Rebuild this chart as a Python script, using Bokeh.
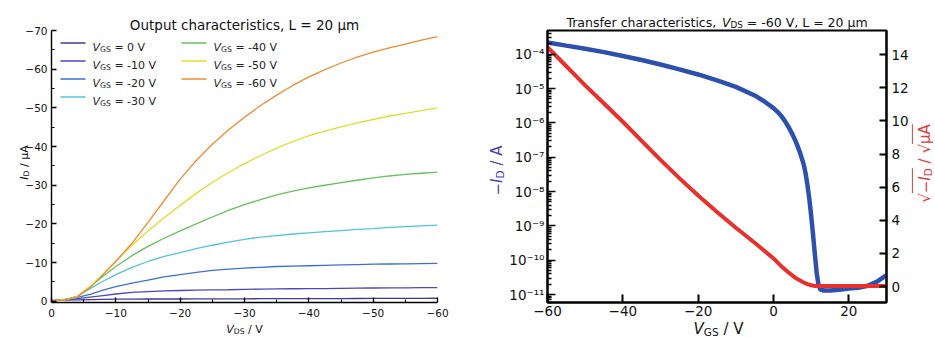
from bokeh.plotting import figure
from bokeh.models import (Range1d, LinearAxis, LinearScale, FixedTicker, CustomJSTickFormatter,
                          Label, BoxAnnotation, GridBox)
from bokeh.embed import file_html
from bokeh.resources import INLINE

FONT = "DejaVu Sans"

# ---------------- Output characteristics (left) ----------------
vds = [0, -2, -4, -6, -8, -10, -12.5, -15, -17.5, -20, -22.5, -25, -27.5, -30, -32.5, -35,
       -37.5, -40, -42.5, -45, -47.5, -50, -52.5, -55, -57.5, -60]
id_vgs_0 = [-0.2, -0.3, -0.4, -0.45, -0.5, -0.55, -0.55, -0.6, -0.6, -0.6, -0.62, -0.65, -0.65,
            -0.65, -0.68, -0.7, -0.7, -0.7, -0.7, -0.72, -0.73, -0.75, -0.75, -0.76, -0.78, -0.8]
id_vgs_m10 = [-0.2, -0.4, -0.7, -1.1, -1.5, -1.9, -2.3, -2.5, -2.7, -2.8, -2.9, -2.95, -3.0,
              -3.1, -3.15, -3.2, -3.25, -3.3, -3.3, -3.35, -3.4, -3.45, -3.5, -3.5, -3.55, -3.55]
id_vgs_m20 = [-0.2, -0.5, -1.0, -1.8, -2.9, -3.8, -4.7, -5.5, -6.3, -6.9, -7.5, -8.0, -8.3,
              -8.6, -8.8, -9.0, -9.1, -9.2, -9.3, -9.4, -9.5, -9.6, -9.65, -9.7, -9.75, -9.8]
id_vgs_m30 = [-0.2, -0.4, -1.3, -3.3, -5.2, -6.9, -8.8, -10.3, -11.6, -12.6, -13.6, -14.5,
              -15.3, -16.0, -16.6, -17.0, -17.4, -17.7, -18.0, -18.3, -18.6, -18.8, -19.1,
              -19.3, -19.5, -19.7]
id_vgs_m40 = [-0.2, -0.4, -1.3, -3.8, -6.5, -9.0, -11.8, -14.2, -16.3, -18.2, -20.0, -21.8,
              -23.5, -25.0, -26.3, -27.5, -28.5, -29.3, -30.0, -30.7, -31.3, -31.9, -32.4,
              -32.8, -33.1, -33.4]
id_vgs_m50 = [-0.2, -0.4, -1.2, -3.8, -7.0, -10.4, -14.5, -18.2, -21.6, -24.8, -27.9, -30.7,
              -33.3, -35.6, -37.7, -39.6, -41.3, -42.8, -44.0, -45.1, -46.1, -47.0, -47.9,
              -48.6, -49.3, -50.0]
id_vgs_m60 = [-0.2, -0.4, -1.1, -3.6, -6.9, -10.3, -15.0, -20.4, -26.0, -31.6, -36.4, -40.6,
              -44.3, -47.6, -50.6, -53.3, -55.8, -58.0, -59.9, -61.6, -63.1, -64.4, -65.5,
              -66.5, -67.5, -68.4]
out_series = [id_vgs_0, id_vgs_m10, id_vgs_m20, id_vgs_m30, id_vgs_m40, id_vgs_m50, id_vgs_m60]
vgs_labels = ["0", "-10", "-20", "-30", "-40", "-50", "-60"]
series_colors = ["#3f3b94", "#4a48bf", "#3e6fd2", "#52c3d8", "#68bf5e", "#e4dc2e", "#f18b30"]

out_xticks = [0, -10, -20, -30, -40, -50, -60]
out_xminor = [-5, -15, -25, -35, -45, -55]
out_yticks = [0, -10, -20, -30, -40, -50, -60, -70]
out_yminor = [-5, -15, -25, -35, -45, -55, -65]

# ---------------- Transfer characteristics (right) ----------------
vgs = [-60, -55, -50, -45, -40, -35, -30, -25, -20, -15, -10, -5, -2.5, 0, 1, 2, 3, 4, 5, 6,
       7, 8, 8.5, 9, 9.5, 10, 10.5, 11, 11.5, 12, 12.5, 13.5, 15, 17.5, 20, 22.5, 25, 27.5, 30]
neg_id_A = [2.19e-4, 1.78e-4, 1.45e-4, 1.15e-4, 8.9e-5, 6.8e-5, 5.0e-5, 3.63e-5, 2.57e-5,
            1.74e-5, 1.12e-5, 6.3e-6, 4.27e-6, 2.69e-6, 2.14e-6, 1.62e-6, 1.15e-6, 7.6e-7,
            4.7e-7, 2.7e-7, 1.41e-7, 6.3e-8, 3.5e-8, 1.58e-8, 6.3e-9, 2.0e-9, 5.6e-10,
            1.41e-10, 4.0e-11, 1.78e-11, 1.38e-11, 1.32e-11, 1.32e-11, 1.38e-11, 1.51e-11,
            1.58e-11, 1.82e-11, 2.4e-11, 3.7e-11]
vgs_r = [-60, -55, -50, -45, -40, -35, -30, -25, -20, -15, -10, -5, 0, 2, 4, 6, 8, 9, 10, 11,
         12, 15, 20, 25, 30]
sqrt_id = [14.45, 13.3, 12.15, 11.05, 9.95, 8.8, 7.65, 6.55, 5.5, 4.5, 3.55, 2.65, 1.7, 1.25,
           0.85, 0.5, 0.25, 0.15, 0.08, 0.04, 0.03, 0.03, 0.03, 0.03, 0.03]
tr_xticks = [-60, -40, -20, 0, 20]
tr_logticks = [1e-11, 1e-10, 1e-9, 1e-8, 1e-7, 1e-6, 1e-5, 1e-4]
tr_logminor = [k * 10.0 ** e for e in range(-12, -3) for k in range(2, 10)]
tr_rticks = [0, 2, 4, 6, 8, 10, 12, 14]

W, H = 935, 337

# ---------------- helpers ----------------
EM = {' ': 0.318, '/': 0.337, 'V': 0.684, 'D': 0.770, 'S': 0.635, 'G': 0.775, 'I': 0.295,
      'A': 0.684, 'µ': 0.636, '−': 0.838, '-': 0.361, '=': 0.838, ',': 0.318, '√': 0.636,
      'L': 0.557, 'm': 0.974, 'T': 0.611, 'r': 0.411, 'a': 0.613, 'n': 0.634, 's': 0.521,
      'f': 0.352, 'e': 0.615, 'c': 0.550, 'h': 0.634, 't': 0.392, 'i': 0.278, 'o': 0.612,
      'O': 0.787, 'u': 0.634, 'p': 0.635}
for d in "0123456789":
    EM[d] = 0.636


def text_width(s, size):
    return sum(EM.get(c, 0.6) for c in s) * size


def rich_text(p, X, Y, parts, angle=0.0, color="#111111", align="center"):
    """Place a run of text pieces at page position (X, Y) (baseline); returns offsets."""
    widths = [text_width(t, s) for (t, s, it, dy) in parts]
    total = sum(widths)
    cur = {"left": 0.0, "center": -total / 2.0, "right": -total}[align]
    sx0, sy0 = X, H - Y
    spans = []
    for (t, s, it, dy), w in zip(parts, widths):
        lead = (len(t) - len(t.lstrip(" "))) * EM[" "] * s
        body = t.strip(" ")
        c = cur + lead
        if angle == 0:
            lx, ly = sx0 + c, sy0 + dy
        else:
            lx, ly = sx0 - dy, sy0 + c
        p.add_layout(Label(x=lx, y=ly, x_units="screen", y_units="screen", text=body,
                           text_font=FONT, text_font_size=f"{s}px",
                           text_font_style="italic" if it else "normal",
                           text_color=color, text_align="left",
                           text_baseline="alphabetic", angle=angle))
        spans.append((cur, cur + w))
        cur += w
    return spans


def style_axis(ax, size, tick_in, minor_in, lw, standoff):
    ax.axis_line_width = lw
    ax.axis_line_color = "black"
    ax.major_tick_in = tick_in
    ax.major_tick_out = 0
    ax.minor_tick_in = minor_in
    ax.minor_tick_out = 0
    ax.major_tick_line_width = lw
    ax.minor_tick_line_width = lw * 0.8
    ax.major_tick_line_color = "black"
    ax.minor_tick_line_color = "black"
    ax.major_label_text_font = FONT
    ax.major_label_text_font_size = size
    ax.major_label_text_color = "#111111"
    ax.major_label_standoff = standoff


minus_code = "return tick < 0 ? '\u2212' + Math.abs(tick).toString() : tick.toString();"
log_code = """
const sup = {'-': '\u207b', '0': '\u2070', '1': '\u00b9', '2': '\u00b2', '3': '\u00b3',
             '4': '\u2074', '5': '\u2075', '6': '\u2076', '7': '\u2077', '8': '\u2078', '9': '\u2079'};
const e = Math.round(Math.log10(tick));
return '10' + String(e).split('').map(c => sup[c]).join('');
"""

# ---------------- left figure ----------------
p1 = figure(width=470, height=H, x_range=Range1d(0, -60), y_range=Range1d(0.3, -70),
            output_backend="svg", toolbar_location=None,
            min_border_left=51, min_border_right=33, min_border_top=30, min_border_bottom=35)
p1.outline_line_color = None
p1.grid.visible = False
p1.background_fill_color = "white"
p1.border_fill_color = "white"
p1.xaxis.ticker = FixedTicker(ticks=out_xticks, minor_ticks=out_xminor)
p1.yaxis.ticker = FixedTicker(ticks=out_yticks, minor_ticks=out_yminor)
p1.xaxis.formatter = CustomJSTickFormatter(code=minus_code)
p1.yaxis.formatter = CustomJSTickFormatter(code=minus_code)
style_axis(p1.xaxis[0], "10.5px", 5, 3, 1.4, 6)
style_axis(p1.yaxis[0], "10.5px", 5, 3, 1.4, 4)

for vals, col in zip(out_series, series_colors):
    p1.line(vds, vals, line_color=col, line_width=1.3)

# ---------------- right figure ----------------
p2 = figure(width=W - 470, height=H, x_range=Range1d(-60, 30),
            y_range=Range1d(5.9e-12, 4.9e-4), y_axis_type="log",
            output_backend="svg", toolbar_location=None,
            min_border_left=77, min_border_right=49, min_border_top=28, min_border_bottom=34)
p2.extra_y_ranges = {"sqrt": Range1d(-0.96, 15.46)}
p2.extra_y_scales = {"sqrt": LinearScale()}
p2.add_layout(LinearAxis(y_range_name="sqrt"), "right")
p2.outline_line_color = "black"
p2.outline_line_width = 2
p2.outline_line_alpha = 1
p2.grid.visible = False
p2.background_fill_color = "white"
p2.border_fill_color = "white"

p2.xaxis.ticker = FixedTicker(ticks=tr_xticks)
p2.xaxis.formatter = CustomJSTickFormatter(code=minus_code)
p2.yaxis[0].ticker = FixedTicker(ticks=tr_logticks, minor_ticks=tr_logminor)
p2.yaxis[0].formatter = CustomJSTickFormatter(code=log_code)
p2.yaxis[1].ticker = FixedTicker(ticks=tr_rticks)
style_axis(p2.xaxis[0], "13.5px", 8, 4, 2, 3)
style_axis(p2.yaxis[0], "13.5px", 8, 4, 1.6, 3)
style_axis(p2.yaxis[1], "13.5px", 7, 4, 2, 5)
p2.yaxis[0].axis_line_width = 2

p2.line(vgs, neg_id_A, line_color="#2d4fae", line_width=4.5)
p2.line(vgs_r, sqrt_id, line_color="#e8302c", line_width=4, y_range_name="sqrt")

# ---------------- transparent text overlay (page coordinates) ----------------
txt = figure(width=W, height=H, x_range=Range1d(0, W), y_range=Range1d(0, H),
             output_backend="svg", toolbar_location=None,
             x_axis_location=None, y_axis_location=None, min_border=0)
txt.outline_line_color = None
txt.background_fill_alpha = 0
txt.border_fill_alpha = 0
txt.grid.visible = False
if "frame_align" in txt.properties():
    txt.frame_align = False

# left plot texts
rich_text(txt, 244, 24, [("Output characteristics, L = 20 µm", 13.5, False, 0)])
rich_text(txt, 244, 328.5, [("V", 11, True, 0), ("DS", 7.7, False, -2.4), (" / V", 11, False, 0)])
rich_text(txt, 24, 162, [("I", 11, True, 0), ("D", 7.7, False, -2.4), (" / µA", 11, False, 0)],
          angle=1.5707963)

# legend (column-major, 2 columns)
leg_rows = [42.5, 60.5, 78.5, 96.5]
for i, (lab, col) in enumerate(zip(vgs_labels, series_colors)):
    c, r = divmod(i, 4)
    x0, x1, tx = (60, 85, 92) if c == 0 else (181, 206, 213)
    yy = H - leg_rows[r]
    txt.add_layout(BoxAnnotation(left=x0, right=x1, bottom=yy - 0.75, top=yy + 0.75,
                                 left_units="screen", right_units="screen",
                                 bottom_units="screen", top_units="screen",
                                 fill_color=col, fill_alpha=1.0, line_alpha=0))
    rich_text(txt, tx, leg_rows[r] + 4, [("V", 11, True, 0), ("GS", 7.7, False, -2.4),
                                        (f" = {lab} V", 11, False, 0)],
              align="left", color="#222222")

# right plot texts
rich_text(txt, 716.5, 21.5, [("Transfer characteristics, ", 12.5, False, 0), ("V", 12.5, True, 0),
                             ("DS", 8.75, False, -2.7), (" = -60 V, L = 20 µm", 12.5, False, 0)])
rich_text(txt, 718, 328, [("V", 15, True, 0), ("GS", 10.5, False, -3.0), (" / V", 15, False, 0)])
rich_text(txt, 496, 170, [("−", 15, False, 0), ("I", 15, True, 0), ("D", 10.5, False, -3.3),
                          (" / A", 15, False, 0)], angle=1.5707963, color="#4a44a8")
rc = "#d94040"
RX, RY = 924, 163
sp = rich_text(txt, RX, RY, [("√", 15, False, 0), ("−", 15, False, 0), ("I", 15, True, 0),
                             ("D", 10.5, False, -3.3), (" / ", 15, False, 0), ("√", 15, False, 0),
                             ("µA", 15, False, 0)], angle=1.5707963, color=rc)
for a, b in [(sp[1][0], sp[3][1]), (sp[6][0], sp[6][1])]:
    txt.add_layout(BoxAnnotation(left=RX - 12.6, right=RX - 11.6, bottom=H - RY + a, top=H - RY + b,
                                 left_units="screen", right_units="screen",
                                 bottom_units="screen", top_units="screen",
                                 fill_color=rc, fill_alpha=1.0, line_alpha=0))

layout = GridBox(children=[(p1, 0, 0), (p2, 0, 1), (txt, 0, 0, 1, 2)])
open("out.html", "w").write(file_html(layout, INLINE))
